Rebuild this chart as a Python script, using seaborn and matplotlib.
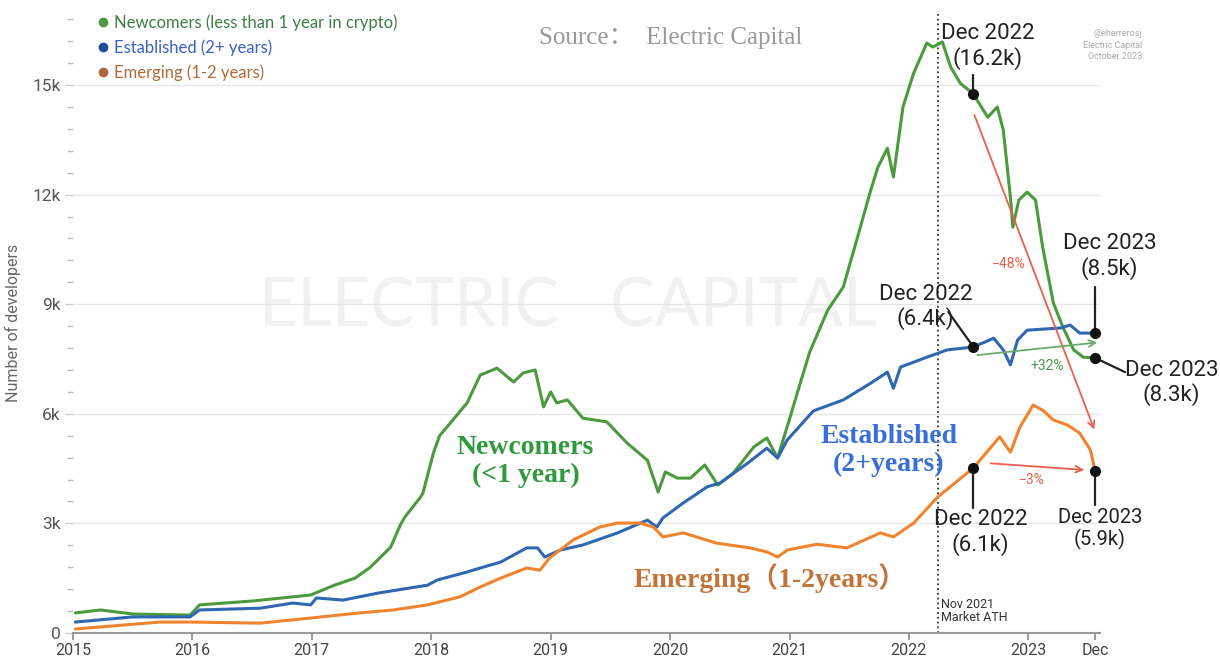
import numpy as np
import pandas as pd
import matplotlib.pyplot as plt
from matplotlib.lines import Line2D
import seaborn as sns

# values (x in fractional years, y in developers)
newcomer_year = [2015.02, 2015.23, 2015.50, 2015.98, 2016.06, 2016.50, 2016.99, 2017.19,
                 2017.36, 2017.49, 2017.66, 2017.74, 2017.78, 2017.91, 2017.93, 2018.02,
                 2018.07, 2018.16, 2018.30, 2018.41, 2018.55, 2018.69, 2018.77, 2018.87,
                 2018.94, 2019.00, 2019.05, 2019.14, 2019.27, 2019.47, 2019.64, 2019.81,
                 2019.90, 2019.96, 2020.06, 2020.17, 2020.29, 2020.40, 2020.53, 2020.70,
                 2020.81, 2020.90, 2020.98, 2021.09, 2021.17, 2021.32, 2021.45, 2021.57,
                 2021.68, 2021.74, 2021.82, 2021.87, 2021.95, 2022.04, 2022.15, 2022.20,
                 2022.28, 2022.35, 2022.43, 2022.54, 2022.66, 2022.74, 2022.79, 2022.85,
                 2022.87, 2022.92, 2022.99, 2023.06, 2023.12, 2023.21, 2023.29, 2023.38,
                 2023.46, 2023.56]
newcomer_devs = [550, 630, 520, 490, 770, 875, 1040, 1310,
                 1500, 1800, 2350, 2950, 3180, 3720, 3830, 4950,
                 5400, 5750, 6300, 7060, 7250, 6870, 7120, 7200,
                 6190, 6600, 6300, 6380, 5880, 5780, 5200, 4730,
                 3860, 4410, 4240, 4240, 4600, 4050, 4380, 5090,
                 5340, 4790, 5640, 6840, 7700, 8840, 9470, 10840,
                 12120, 12750, 13270, 12480, 14400, 15330, 16150, 16040,
                 16180, 15490, 15050, 14750, 14120, 14400, 13770, 11930,
                 11110, 11850, 12070, 11850, 10560, 9030, 8370, 7750,
                 7550, 7530]

established_year = [2015.02, 2015.50, 2015.98, 2016.06, 2016.57, 2016.84, 2016.99, 2017.04,
                    2017.26, 2017.55, 2017.97, 2018.05, 2018.30, 2018.41, 2018.58, 2018.80,
                    2018.89, 2018.95, 2019.08, 2019.27, 2019.56, 2019.81, 2019.89, 2019.94,
                    2020.11, 2020.31, 2020.42, 2020.65, 2020.81, 2020.90, 2020.98, 2021.20,
                    2021.45, 2021.68, 2021.82, 2021.87, 2021.93, 2022.15, 2022.32, 2022.54,
                    2022.71, 2022.79, 2022.85, 2022.91, 2022.99, 2023.27, 2023.35, 2023.43,
                    2023.56]
established_devs = [300, 440, 440, 630, 680, 820, 770, 960,
                    900, 1090, 1310, 1450, 1670, 1780, 1940, 2330,
                    2330, 2080, 2270, 2410, 2740, 3090, 2900, 3150,
                    3560, 4000, 4110, 4650, 5060, 4790, 5280, 6080,
                    6380, 6840, 7140, 6700, 7280, 7550, 7750, 7830,
                    8070, 7750, 7340, 8020, 8290, 8350, 8430, 8210,
                    8210]

emerging_year = [2015.02, 2015.73, 2015.98, 2016.57, 2016.99, 2017.40, 2017.68, 2017.97,
                 2018.24, 2018.41, 2018.58, 2018.80, 2018.91, 2018.99, 2019.19, 2019.41,
                 2019.56, 2019.75, 2019.86, 2019.94, 2020.11, 2020.39, 2020.67, 2020.81,
                 2020.90, 2020.98, 2021.23, 2021.48, 2021.76, 2021.87, 2022.04, 2022.24,
                 2022.54, 2022.76, 2022.85, 2022.93, 2023.04, 2023.12, 2023.21, 2023.33,
                 2023.43, 2023.52, 2023.56]
emerging_devs = [110, 300, 300, 270, 410, 550, 630, 770,
                 990, 1260, 1500, 1780, 1720, 2050, 2550, 2900,
                 3010, 3010, 2900, 2630, 2740, 2460, 2330, 2220,
                 2080, 2270, 2430, 2330, 2740, 2630, 3010, 3720,
                 4520, 5370, 4950, 5640, 6240, 6100, 5830, 5690,
                 5470, 5010, 4430]

groups = ["Newcomers (less than 1 year in crypto)", "Established (2+ years)", "Emerging (1-2 years)"]
line_colors = ["#4b9a3e", "#2f68b0", "#f0842e"]
legend_text_colors = ["#3f7d45", "#3d5fc8", "#b06a3a"]
legend_dot_colors = ["#4b9a3e", "#1f4ea0", "#b0683a"]

x_ticks = [2015, 2016, 2017, 2018, 2019, 2020, 2021, 2022, 2023, 2023.56]
x_labels = ["2015", "2016", "2017", "2018", "2019", "2020", "2021", "2022", "2023", "Dec"]
y_ticks = [0, 3000, 6000, 9000, 12000, 15000]
y_labels = ["0", "3k", "6k", "9k", "12k", "15k"]

dec22 = 2022.54
ath = 2022.24

df = pd.concat([
    pd.DataFrame({"year": newcomer_year, "devs": newcomer_devs, "group": groups[0]}),
    pd.DataFrame({"year": established_year, "devs": established_devs, "group": groups[1]}),
    pd.DataFrame({"year": emerging_year, "devs": emerging_devs, "group": groups[2]}),
])

sns.set_theme(style="white")
plt.rcParams["font.family"] = ["Roboto", "DejaVu Sans"]

fig = plt.figure(figsize=(12.2, 6.58), dpi=100)
ax = fig.add_axes([73 / 1220, 1 - 633 / 658, 1027 / 1220, 621 / 658])

# faint watermark
ax.text(2019.15, 8900, "ELECTRIC   CAPITAL", fontsize=48, color="#f1f1f1", family="Lato",
        ha="center", va="center", zorder=0)

sns.lineplot(data=df, x="year", y="devs", hue="group", palette=dict(zip(groups, line_colors)),
             estimator=None, sort=False, linewidth=2.2, legend=False, ax=ax, zorder=3)

ax.set_xlim(2015, 2023.6)
ax.set_ylim(0, 17000)
ax.set_xticks(x_ticks)
ax.set_xticklabels(x_labels)
ax.set_yticks(y_ticks)
ax.set_yticklabels(y_labels)
ax.set_yticks(np.arange(0, 17001, 600), minor=True)
ax.tick_params(axis="x", direction="out", length=5, width=1.2, color="#888", labelsize=11.5,
               labelcolor="#444", pad=2, bottom=True)
ax.tick_params(axis="y", which="major", direction="out", length=6, width=1, color="#ccc",
               labelsize=12.5, labelcolor="#555", pad=3, left=True)
ax.tick_params(axis="y", which="minor", direction="out", length=4, width=1, color="#bbb", left=True)
ax.grid(axis="y", color="#e6e6e6", linewidth=1)
ax.grid(axis="x", visible=False)
for side in ["left", "right", "top"]:
    ax.spines[side].set_visible(False)
ax.spines["bottom"].set_color("#999")
ax.spines["bottom"].set_linewidth(1.5)
ax.set_xlabel("")
ax.set_ylabel("Number of developers", fontsize=11.5, color="#666", labelpad=8)

# market ATH marker
ax.axvline(ath, color="#333", linestyle=":", linewidth=1.3, zorder=2)
ax.text(ath + 0.025, 960, "Nov 2021\nMarket ATH", fontsize=9, color="#333", va="top",
        ha="left", linespacing=1.0)

# legend with coloured labels
handles = [Line2D([], [], marker="o", linestyle="", markersize=6, color=c) for c in legend_dot_colors]
leg = fig.legend(handles, groups, loc="upper left", bbox_to_anchor=(86 / 1220, 1 - 6 / 658),
                 frameon=False, handletextpad=0.2, labelspacing=0.5,
                 borderpad=0, handlelength=1.0, prop={"family": "Lato", "size": 12})
for txt, c in zip(leg.get_texts(), legend_text_colors):
    txt.set_color(c)

fig.text(671 / 1220, 1 - 38 / 658, "Source：  Electric Capital", fontsize=18, color="#999",
         family=["Liberation Serif", "Noto Sans CJK SC"], ha="center", va="center")
fig.text(1142 / 1220, 1 - 45 / 658, "@eherrerosj\nElectric Capital\nOctober 2023", fontsize=6.5,
         color="#aaa", ha="right", va="center", linespacing=1.3)

# series labels
serif = ["Liberation Serif", "Noto Sans CJK SC"]
ax.text(2018.79, 4700, "Newcomers\n(<1 year)", fontsize=20, fontweight="bold", color="#2f9a3c",
        family=serif, ha="center", va="center", linespacing=1.15)
ax.text(2021.83, 5000, "Established\n(2+years)", fontsize=20, fontweight="bold", color="#3a6fd8",
        family=serif, ha="center", va="center", linespacing=1.15)
ax.text(2020.84, 1500, "Emerging（1-2years）", fontsize=20, fontweight="bold", color="#c27438",
        family=serif, ha="center", va="center")

# Dec 2022 / Dec 2023 callouts
g22 = np.interp(dec22, newcomer_year, newcomer_devs)
b22 = np.interp(dec22, established_year, established_devs)
o22 = np.interp(dec22, emerging_year, emerging_devs)
g23, b23, o23 = newcomer_devs[-1], established_devs[-1], emerging_devs[-1]
end = newcomer_year[-1]

# leader lines from each dot towards its label
leader = dict(color="#222", linewidth=1.6, zorder=5, clip_on=False)
ax.plot([dec22, dec22], [g22, 15270], **leader)
ax.plot([end, end], [b23, 9470], **leader)
ax.plot([dec22, 2022.33], [b22, 8790], **leader)
ax.plot([end, 2023.81], [g23, 7140], **leader)
ax.plot([dec22, dec22], [o22, 3420], **leader)
ax.plot([end, end], [o23, 3500], **leader)

ax.plot([dec22, end, dec22, end, dec22, end], [g22, g23, b22, b23, o22, o23], "o",
        color="#111", markersize=7, zorder=6, clip_on=False)

call = dict(fontsize=16, color="#222", ha="center", va="center", linespacing=1.15)
ax.text(2022.66, 16050, "Dec 2022\n(16.2k)", **call)
ax.text(2023.68, 10300, "Dec 2023\n(8.5k)", **call)
ax.text(2022.14, 8920, "Dec 2022\n(6.4k)", **call)
ax.text(2024.20, 6840, "Dec 2023\n(8.3k)", **call)
ax.text(2022.60, 2760, "Dec 2022\n(6.1k)", **call)
ax.text(2023.60, 2850, "Dec 2023\n(5.9k)", **dict(call, fontsize=14.5))

# change arrows
ax.annotate("", xy=(2023.56, 5500), xytext=(dec22, 14250),
            arrowprops=dict(arrowstyle="->", color="#e8604c", lw=1.3))
ax.text(2022.84, 10100, "−48%", fontsize=10, color="#e8604c", ha="center", va="center")
ax.annotate("", xy=(2023.6, 7960), xytext=(2022.55, 7600),
            arrowprops=dict(arrowstyle="->", color="#6aaa6a", lw=1.3))
ax.text(2023.16, 7300, "+32%", fontsize=10, color="#4f9a4f", ha="center", va="center")
ax.annotate("", xy=(2023.49, 4460), xytext=(2022.66, 4650),
            arrowprops=dict(arrowstyle="->", color="#e8604c", lw=1.3))
ax.text(2023.03, 4180, "−3%", fontsize=10, color="#e8604c", ha="center", va="center")

fig.savefig("out.png", dpi=100)
